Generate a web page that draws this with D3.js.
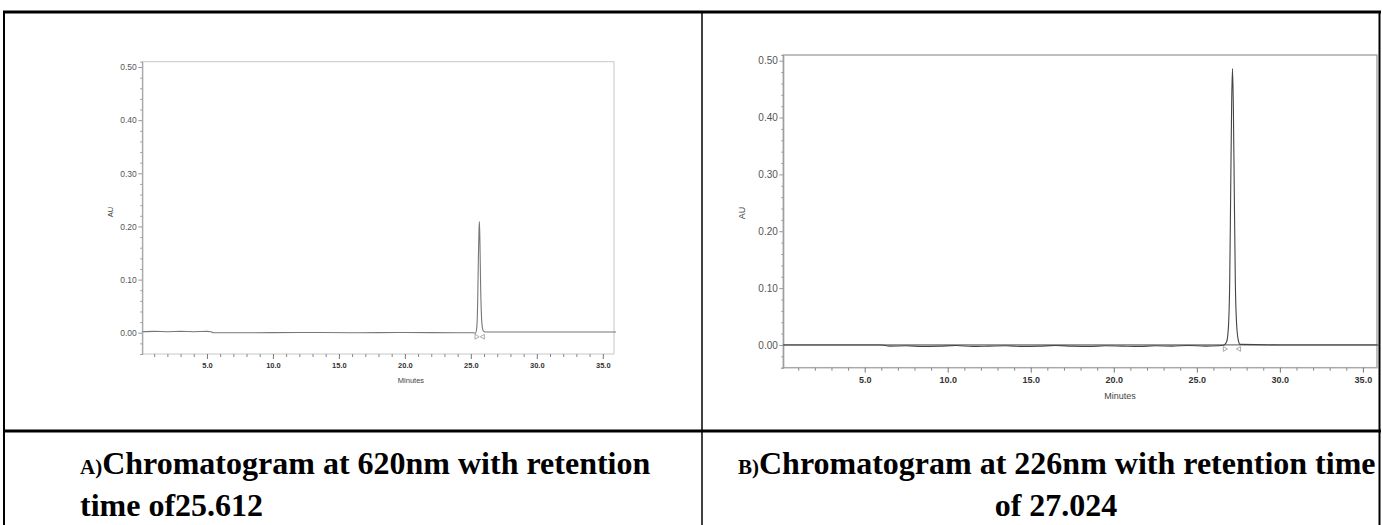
<!DOCTYPE html>
<html>
<head>
<meta charset="utf-8">
<script src="https://cdn.jsdelivr.net/npm/d3@7"></script>
<style>
  html, body { margin: 0; padding: 0; background: #fff; }
  svg { display: block; }
</style>
</head>
<body>
<svg id="chart" width="1382" height="525"></svg>
<script>
// ---------------- DATA ----------------
const yMajorTicks = [0.00, 0.10, 0.20, 0.30, 0.40, 0.50];
const xMajorTicks = [5, 10, 15, 20, 25, 30, 35];
const xDomain = [0.1, 35.85];
const yDomain = [-0.04, 0.51];

// Panel A: 620 nm trace (minutes, AU)
const traceA_time = [0.1, 1, 2, 3, 4, 5, 5.3, 5.5, 8, 12, 16, 20, 24, 25.2, 25.35, 25.45, 25.52, 25.57, 25.62, 25.65, 25.69, 25.74, 25.8, 25.87, 25.95, 26.1, 30, 36];
const traceA_au   = [0.002, 0.0025, 0.002, 0.0025, 0.002, 0.0025, 0.002, 0.0, 0.0, 0.0005, 0.0, 0.0005, 0.0, 0.0, -0.001, 0.01, 0.06, 0.14, 0.195, 0.209, 0.17, 0.09, 0.035, 0.01, 0.003, 0.0015, 0.0015, 0.0015];
const peakMarksA = [25.42, 25.92];

// Panel B: 226 nm trace (minutes, AU)
const traceB_time = [0.1, 3, 6, 6.5, 7.5, 8.5, 9.5, 10.5, 11.5, 12.5, 13.5, 14.5, 15.5, 16.5, 17.5, 18.5, 19.5, 20.5, 21.5, 22.5, 23.5, 24.5, 25.5, 26.3, 26.65, 26.8, 26.9, 26.98, 27.04, 27.1, 27.15, 27.2, 27.26, 27.32, 27.4, 27.5, 27.6, 30, 36];
const traceB_au   = [0.0, 0.0, 0.0, -0.002, -0.0015, -0.0025, -0.002, -0.001, -0.0025, -0.002, -0.0015, -0.0025, -0.002, -0.001, -0.002, -0.0025, -0.0015, -0.002, -0.0025, -0.0015, -0.002, -0.001, -0.002, -0.0015, 0.0, 0.006, 0.03, 0.11, 0.27, 0.43, 0.486, 0.42, 0.26, 0.11, 0.035, 0.008, 0.001, 0.0, 0.0];
const peakMarksB = [26.68, 27.55];

const captionA = ["A)", "Chromatogram at 620nm with retention", "time of25.612"];
const captionB = ["B)", "Chromatogram at 226nm with retention time", "of 27.024"];

// ---------------- DRAW ----------------
const svg = d3.select("#chart");

// table borders
const tbl = svg.append("g").attr("stroke", "#000").attr("fill", "none");
tbl.append("line").attr("x1", 3).attr("x2", 1381).attr("y1", 12).attr("y2", 12).attr("stroke-width", 3);
tbl.append("line").attr("x1", 4).attr("x2", 4).attr("y1", 11).attr("y2", 525).attr("stroke-width", 2);
tbl.append("line").attr("x1", 1379.5).attr("x2", 1379.5).attr("y1", 11).attr("y2", 525).attr("stroke-width", 2);
tbl.append("line").attr("x1", 702).attr("x2", 702).attr("y1", 11).attr("y2", 525).attr("stroke-width", 1.5);
tbl.append("line").attr("x1", 3).attr("x2", 1381).attr("y1", 431).attr("y2", 431).attr("stroke-width", 3);

function panel(cfg) {
  const x = d3.scaleLinear().domain(xDomain).range([cfg.left, cfg.right]);
  const y = d3.scaleLinear().domain(yDomain).range([cfg.bottom, cfg.top]);
  const g = svg.append("g");

  // frame
  g.append("rect")
    .attr("x", cfg.left).attr("y", cfg.top)
    .attr("width", cfg.right - cfg.left).attr("height", cfg.bottom - cfg.top)
    .attr("fill", "none").attr("stroke", cfg.frameColor).attr("stroke-width", cfg.frameWidth);

  // y axis minor ticks
  const yMinor = d3.range(-0.04, 0.5001, 0.02).filter(v => !yMajorTicks.some(m => Math.abs(m - v) < 1e-6));
  g.append("g").attr("transform", `translate(${cfg.left},0)`)
    .call(d3.axisLeft(y).tickValues(yMinor).tickSize(2).tickFormat(""))
    .call(a => a.select(".domain").attr("stroke", "#999"))
    .call(a => a.selectAll(".tick line").attr("stroke", "#999"));
  // y axis major
  g.append("g").attr("transform", `translate(${cfg.left},0)`)
    .call(d3.axisLeft(y).tickValues(yMajorTicks).tickSize(4).tickPadding(1.5).tickFormat(d3.format(".2f")))
    .call(a => a.select(".domain").remove())
    .call(a => a.selectAll(".tick line").attr("stroke", "#999"))
    .call(a => a.selectAll(".tick text").attr("fill", "#555")
      .style("font-family", "Liberation Sans, Arial, sans-serif").style("font-size", cfg.yFont + "px"));

  // x axis minor
  const xMinor = d3.range(1, 36, 1).filter(v => v % 5 !== 0);
  g.append("g").attr("transform", `translate(0,${cfg.bottom})`)
    .call(d3.axisBottom(x).tickValues(xMinor).tickSize(3).tickFormat(""))
    .call(a => a.select(".domain").remove())
    .call(a => a.selectAll(".tick line").attr("stroke", "#888"));
  g.append("g").attr("transform", `translate(0,${cfg.bottom})`)
    .call(d3.axisBottom(x).tickValues(xMajorTicks).tickSize(5).tickPadding(cfg.xPad).tickFormat(d3.format(".1f")))
    .call(a => a.select(".domain").remove())
    .call(a => a.selectAll(".tick line").attr("stroke", "#777"))
    .call(a => a.selectAll(".tick text").attr("fill", "#333").style("font-weight", "bold")
      .style("font-family", "Liberation Sans, Arial, sans-serif").style("font-size", cfg.xFont + "px"));

  // axis titles
  g.append("text").attr("x", cfg.minutesX).attr("y", cfg.minutesY)
    .attr("text-anchor", "middle").attr("fill", "#444")
    .style("font-family", "Liberation Sans, Arial, sans-serif").style("font-size", cfg.titleFont + "px")
    .text("Minutes");
  g.append("text")
    .attr("transform", `translate(${cfg.auX},${cfg.auY}) rotate(-90)`)
    .attr("text-anchor", "middle").attr("fill", "#444")
    .style("font-family", "Liberation Sans, Arial, sans-serif").style("font-size", cfg.titleFont + "px")
    .text("AU");

  // zero reference
  if (cfg.zeroLine) {
    g.append("line").attr("x1", cfg.left).attr("x2", cfg.right)
      .attr("y1", y(0)).attr("y2", y(0)).attr("stroke", "#777").attr("stroke-width", 1.2);
  }

  // trace
  const pts = cfg.t.map((t, i) => [t, cfg.v[i]]);
  const line = d3.line().x(d => x(d[0])).y(d => y(d[1])).curve(d3.curveMonotoneX);
  g.append("path").datum(pts).attr("d", line)
    .attr("fill", "none").attr("stroke", cfg.traceColor).attr("stroke-width", cfg.traceWidth);

  // peak start/end markers
  g.selectAll(".pm").data(cfg.marks).join("path")
    .attr("transform", d => `translate(${x(d)},${y(0) + 4}) rotate(${cfg.marks.indexOf(d) === 0 ? 90 : -90})`)
    .attr("d", d3.symbol(d3.symbolTriangle, 10)())
    .attr("fill", "none").attr("stroke", "#888").attr("stroke-width", 0.7);
}

panel({
  left: 142.3, right: 614, top: 61.7, bottom: 354,
  t: traceA_time, v: traceA_au, marks: peakMarksA,
  frameColor: "#c8c8c8", frameWidth: 1,
  yFont: 8.5, xFont: 7.5, xPad: 4, titleFont: 7.5,
  minutesX: 411, minutesY: 383, auX: 113, auY: 212,
  traceColor: "#777", traceWidth: 1.1, zeroLine: false
});

panel({
  left: 783.3, right: 1377, top: 55, bottom: 367.7,
  t: traceB_time, v: traceB_au, marks: peakMarksB,
  frameColor: "#aaa", frameWidth: 1.5,
  yFont: 10, xFont: 9, xPad: 4, titleFont: 9,
  minutesX: 1120, minutesY: 399, auX: 745, auY: 213,
  traceColor: "#444", traceWidth: 1.1, zeroLine: true
});

// captions
function caption(c, x1, x2, anchor2) {
  const t1 = svg.append("text").attr("x", x1).attr("y", 474)
    .style("font-family", "Liberation Serif, 'Times New Roman', serif").style("font-weight", "bold");
  t1.append("tspan").style("font-size", "21px").text(c[0]);
  t1.append("tspan").style("font-size", "32px").text(c[1]);
  svg.append("text").attr("x", x2).attr("y", 516).attr("text-anchor", anchor2)
    .style("font-family", "Liberation Serif, 'Times New Roman', serif").style("font-weight", "bold")
    .style("font-size", "32px").text(c[2]);
}
caption(captionA, 80, 80, "start");
caption(captionB, 738, 1056, "middle");
</script>
</body>
</html>
